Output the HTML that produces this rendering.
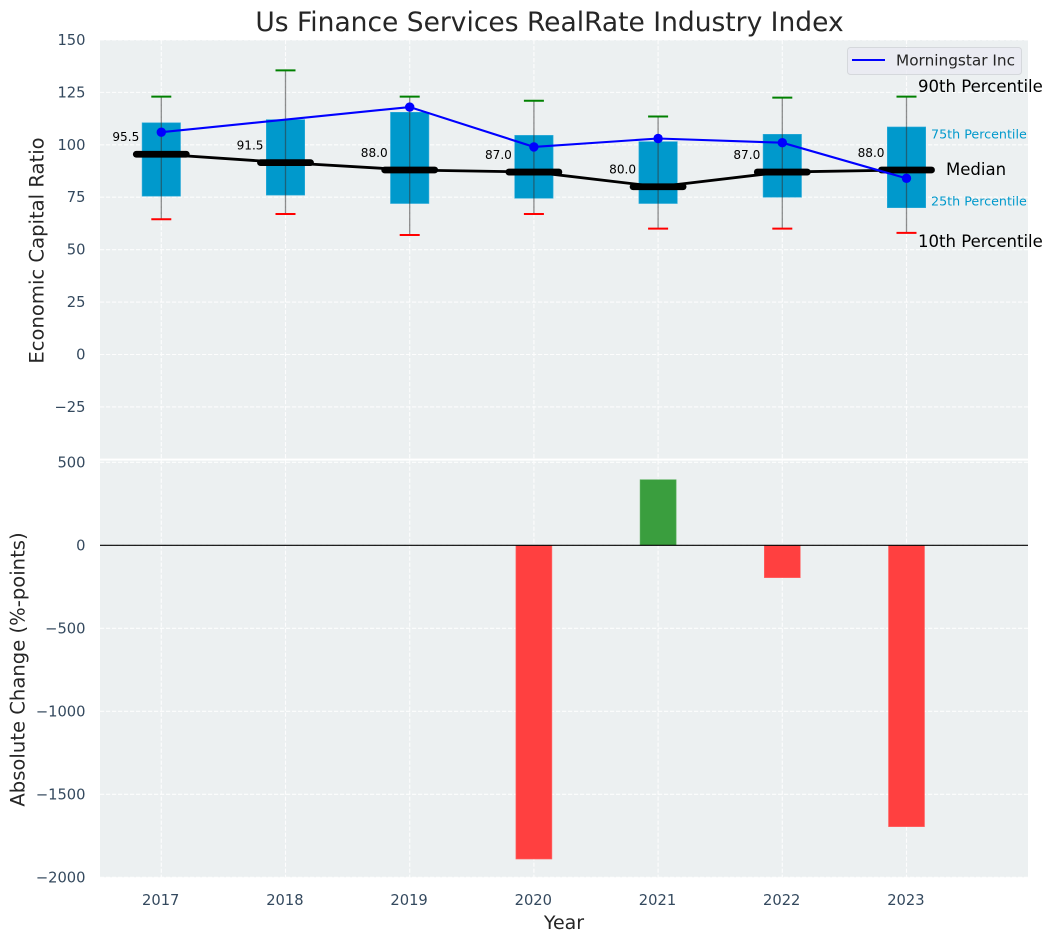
<!DOCTYPE html>
<html lang="en">
<head>
<meta charset="utf-8">
<title>Us Finance Services RealRate Industry Index</title>
<style>
html,body{margin:0;padding:0;background:#fff;}
svg{display:block;font-family:"DejaVu Sans","Liberation Sans",sans-serif;}
</style>
</head>
<body>
<svg id="chart" xmlns="http://www.w3.org/2000/svg" width="1053" height="942" viewBox="0 0 1053 942"></svg>
<script>
const years = [2017, 2018, 2019, 2020, 2021, 2022, 2023];
const p90 = [123, 135.5, 123, 121, 113.5, 122.5, 123];
const p75 = [110.5, 112, 115.5, 104.5, 101.5, 105, 108.5];
const medians = [95.5, 91.5, 88, 87, 80, 87, 88];
const p25 = [75.5, 76, 72, 74.5, 72, 75, 70];
const p10 = [64.5, 67, 57, 67, 60, 60, 58];
const morningstar = [106, null, 118, 99, 103, 101, 84];
const changes = [null, null, null, -1890, 395, -195, -1695];
const topTicks = [150, 125, 100, 75, 50, 25, 0, -25];
const bottomTicks = [500, 0, -500, -1000, -1500, -2000];

const NS = 'http://www.w3.org/2000/svg';
const svg = document.getElementById('chart');
const L = 100, R = 1028, T1 = 40, B1 = 458.6, T2 = 460.6, B2 = 877.3;
const xScale = y => 161.3 + (y - 2017) * 124.2;
const yTop = v => 354.5 - v * 2.097;
const yBot = v => 545.3 - v * 0.166;
const INK = '#34495e', DARK = '#262626';

function add(tag, attrs, parent, text) {
  const el = document.createElementNS(NS, tag);
  for (const k in attrs) el.setAttribute(k, attrs[k]);
  if (text !== undefined) el.textContent = text;
  (parent || svg).appendChild(el);
  return el;
}
const fmtTick = v => String(v).replace('-', '\u2212');

/* panels */
let el = add('rect', {x: L, y: T1, width: R - L, height: B1 - T1, fill: '#ecf0f1'});


el = add('rect', {x: L, y: T2, width: R - L, height: B2 - T2, fill: '#ecf0f1'});



/* grid */
const gridStyle = {stroke: '#ffffff', 'stroke-width': 1.1, 'stroke-dasharray': '4.2 1.8', fill: 'none', opacity: 0.9};
const grid = add('g', gridStyle);


topTicks.forEach(v => add('line', {x1: L, x2: R, y1: yTop(v), y2: yTop(v)}, grid));
bottomTicks.forEach(v => add('line', {x1: L, x2: R, y1: yBot(v), y2: yBot(v)}, grid));
years.forEach(y => {
  add('line', {x1: xScale(y), x2: xScale(y), y1: T1, y2: B1}, grid);
  add('line', {x1: xScale(y), x2: xScale(y), y1: T2, y2: B2}, grid);
});

/* tick labels */
topTicks.forEach(v => {
  const t = add('text', {x: 85.5, y: yTop(v) + 5, 'text-anchor': 'end', 'font-size': 14.7, fill: INK}, svg, fmtTick(v));
  
  
});
bottomTicks.forEach(v => {
  const t = add('text', {x: 85.5, y: yBot(v) + 5, 'text-anchor': 'end', 'font-size': 14.7, fill: INK}, svg, fmtTick(v));
  
  
});
years.forEach(y => {
  const t = add('text', {x: xScale(y) - 0.6, y: 905, 'text-anchor': 'middle', 'font-size': 14.7, fill: INK}, svg, y);
  
  
});

/* boxes */
years.forEach((y, i) => {
  const x = xScale(y);
  const box = add('g', {});
  
  
  add('rect', {x: x - 19.2, y: yTop(p75[i]), width: 38.4, height: yTop(p25[i]) - yTop(p75[i]), fill: '#0099cc', stroke: '#33adda', 'stroke-width': 0.6}, box);
  add('line', {x1: x, x2: x, y1: yTop(p90[i]), y2: yTop(p10[i]), stroke: '#333', 'stroke-opacity': 0.55, 'stroke-width': 1.3}, box);
  add('line', {x1: x - 10, x2: x + 10, y1: yTop(p90[i]), y2: yTop(p90[i]), stroke: '#008000', 'stroke-width': 2}, box);
  add('line', {x1: x - 10, x2: x + 10, y1: yTop(p10[i]), y2: yTop(p10[i]), stroke: '#ff0000', 'stroke-width': 2}, box);
});

/* median line */
const pointsOf = (arr, scale) => years.map((y, i) => arr[i] === null ? null : xScale(y) + ',' + scale(arr[i])).filter(Boolean).join(' ');
el = add('polyline', {points: pointsOf(medians, yTop), fill: 'none', stroke: '#000', 'stroke-width': 2.8});


years.forEach((y, i) => {
  const x = xScale(y);
  const m = add('line', {x1: x - 25, x2: x + 25, y1: yTop(medians[i]), y2: yTop(medians[i]), stroke: '#000', 'stroke-width': 6.8, 'stroke-linecap': 'round'});
  
  
  const t = add('text', {x: x - 22, y: yTop(medians[i]) - 13, 'text-anchor': 'end', 'font-size': 12.1, fill: '#000'}, svg, medians[i].toFixed(1));
  
  
});

/* Morningstar series */
el = add('polyline', {points: pointsOf(morningstar, yTop), fill: 'none', stroke: '#0000ff', 'stroke-width': 2.1});


years.forEach((y, i) => {
  if (morningstar[i] === null) return;
  const p = add('circle', {cx: xScale(y), cy: yTop(morningstar[i]), r: 4.7, fill: '#0000ff'});
  
  
});

/* bars */
years.forEach((y, i) => {
  if (changes[i] === null) return;
  const v = changes[i];
  const top = Math.min(yBot(v), yBot(0));
  const h = Math.abs(yBot(v) - yBot(0));
  const b = add('rect', {x: xScale(y) - 18, y: top, width: 36, height: h,
    fill: v < 0 ? '#ff4040' : '#3a9e3e', stroke: v < 0 ? '#ff6a6a' : '#55ad58', 'stroke-width': 0.6});
  
  
});
el = add('line', {x1: L, x2: R, y1: yBot(0), y2: yBot(0), stroke: '#000', 'stroke-width': 1.2});



/* percentile annotations */
const notes = [
  ['90th Percentile', 918, 92, 16.55, '#000', 'annotation-90th'],
  ['75th Percentile', 931, 138.5, 12.7, '#0099cc', 'annotation-75th'],
  ['Median', 946, 175, 16.55, '#000', 'annotation-median'],
  ['25th Percentile', 931, 205.5, 12.7, '#0099cc', 'annotation-25th'],
  ['10th Percentile', 918, 247, 16.55, '#000', 'annotation-10th']
];
notes.forEach(n => {
  const t = add('text', {x: n[1], y: n[2], 'font-size': n[3], fill: n[4]}, svg, n[0]);
  
  
});

/* legend */
const lg = add('g', {});


add('rect', {x: 847.5, y: 47.5, width: 174, height: 27, rx: 3, fill: '#eaeaf2', 'fill-opacity': 0.8, stroke: '#d5d8dc', 'stroke-width': 1}, lg);
add('line', {x1: 852, x2: 885, y1: 60, y2: 60, stroke: '#0000ff', 'stroke-width': 2.1}, lg);
add('text', {x: 896, y: 65.5, 'font-size': 15.3, fill: DARK}, lg, 'Morningstar Inc');

/* titles */
el = add('text', {x: 549.5, y: 31, 'text-anchor': 'middle', 'font-size': 26.5, fill: DARK}, svg, 'Us Finance Services RealRate Industry Index');


el = add('text', {x: 564, y: 929, 'text-anchor': 'middle', 'font-size': 19, fill: DARK}, svg, 'Year');


el = add('text', {transform: 'translate(43.5,250.5) rotate(-90)', 'text-anchor': 'middle', 'font-size': 19.6, fill: DARK}, svg, 'Economic Capital Ratio');


el = add('text', {transform: 'translate(24.5,669.5) rotate(-90)', 'text-anchor': 'middle', 'font-size': 19.6, fill: DARK}, svg, 'Absolute Change (%-points)');


</script>
</body>
</html>
